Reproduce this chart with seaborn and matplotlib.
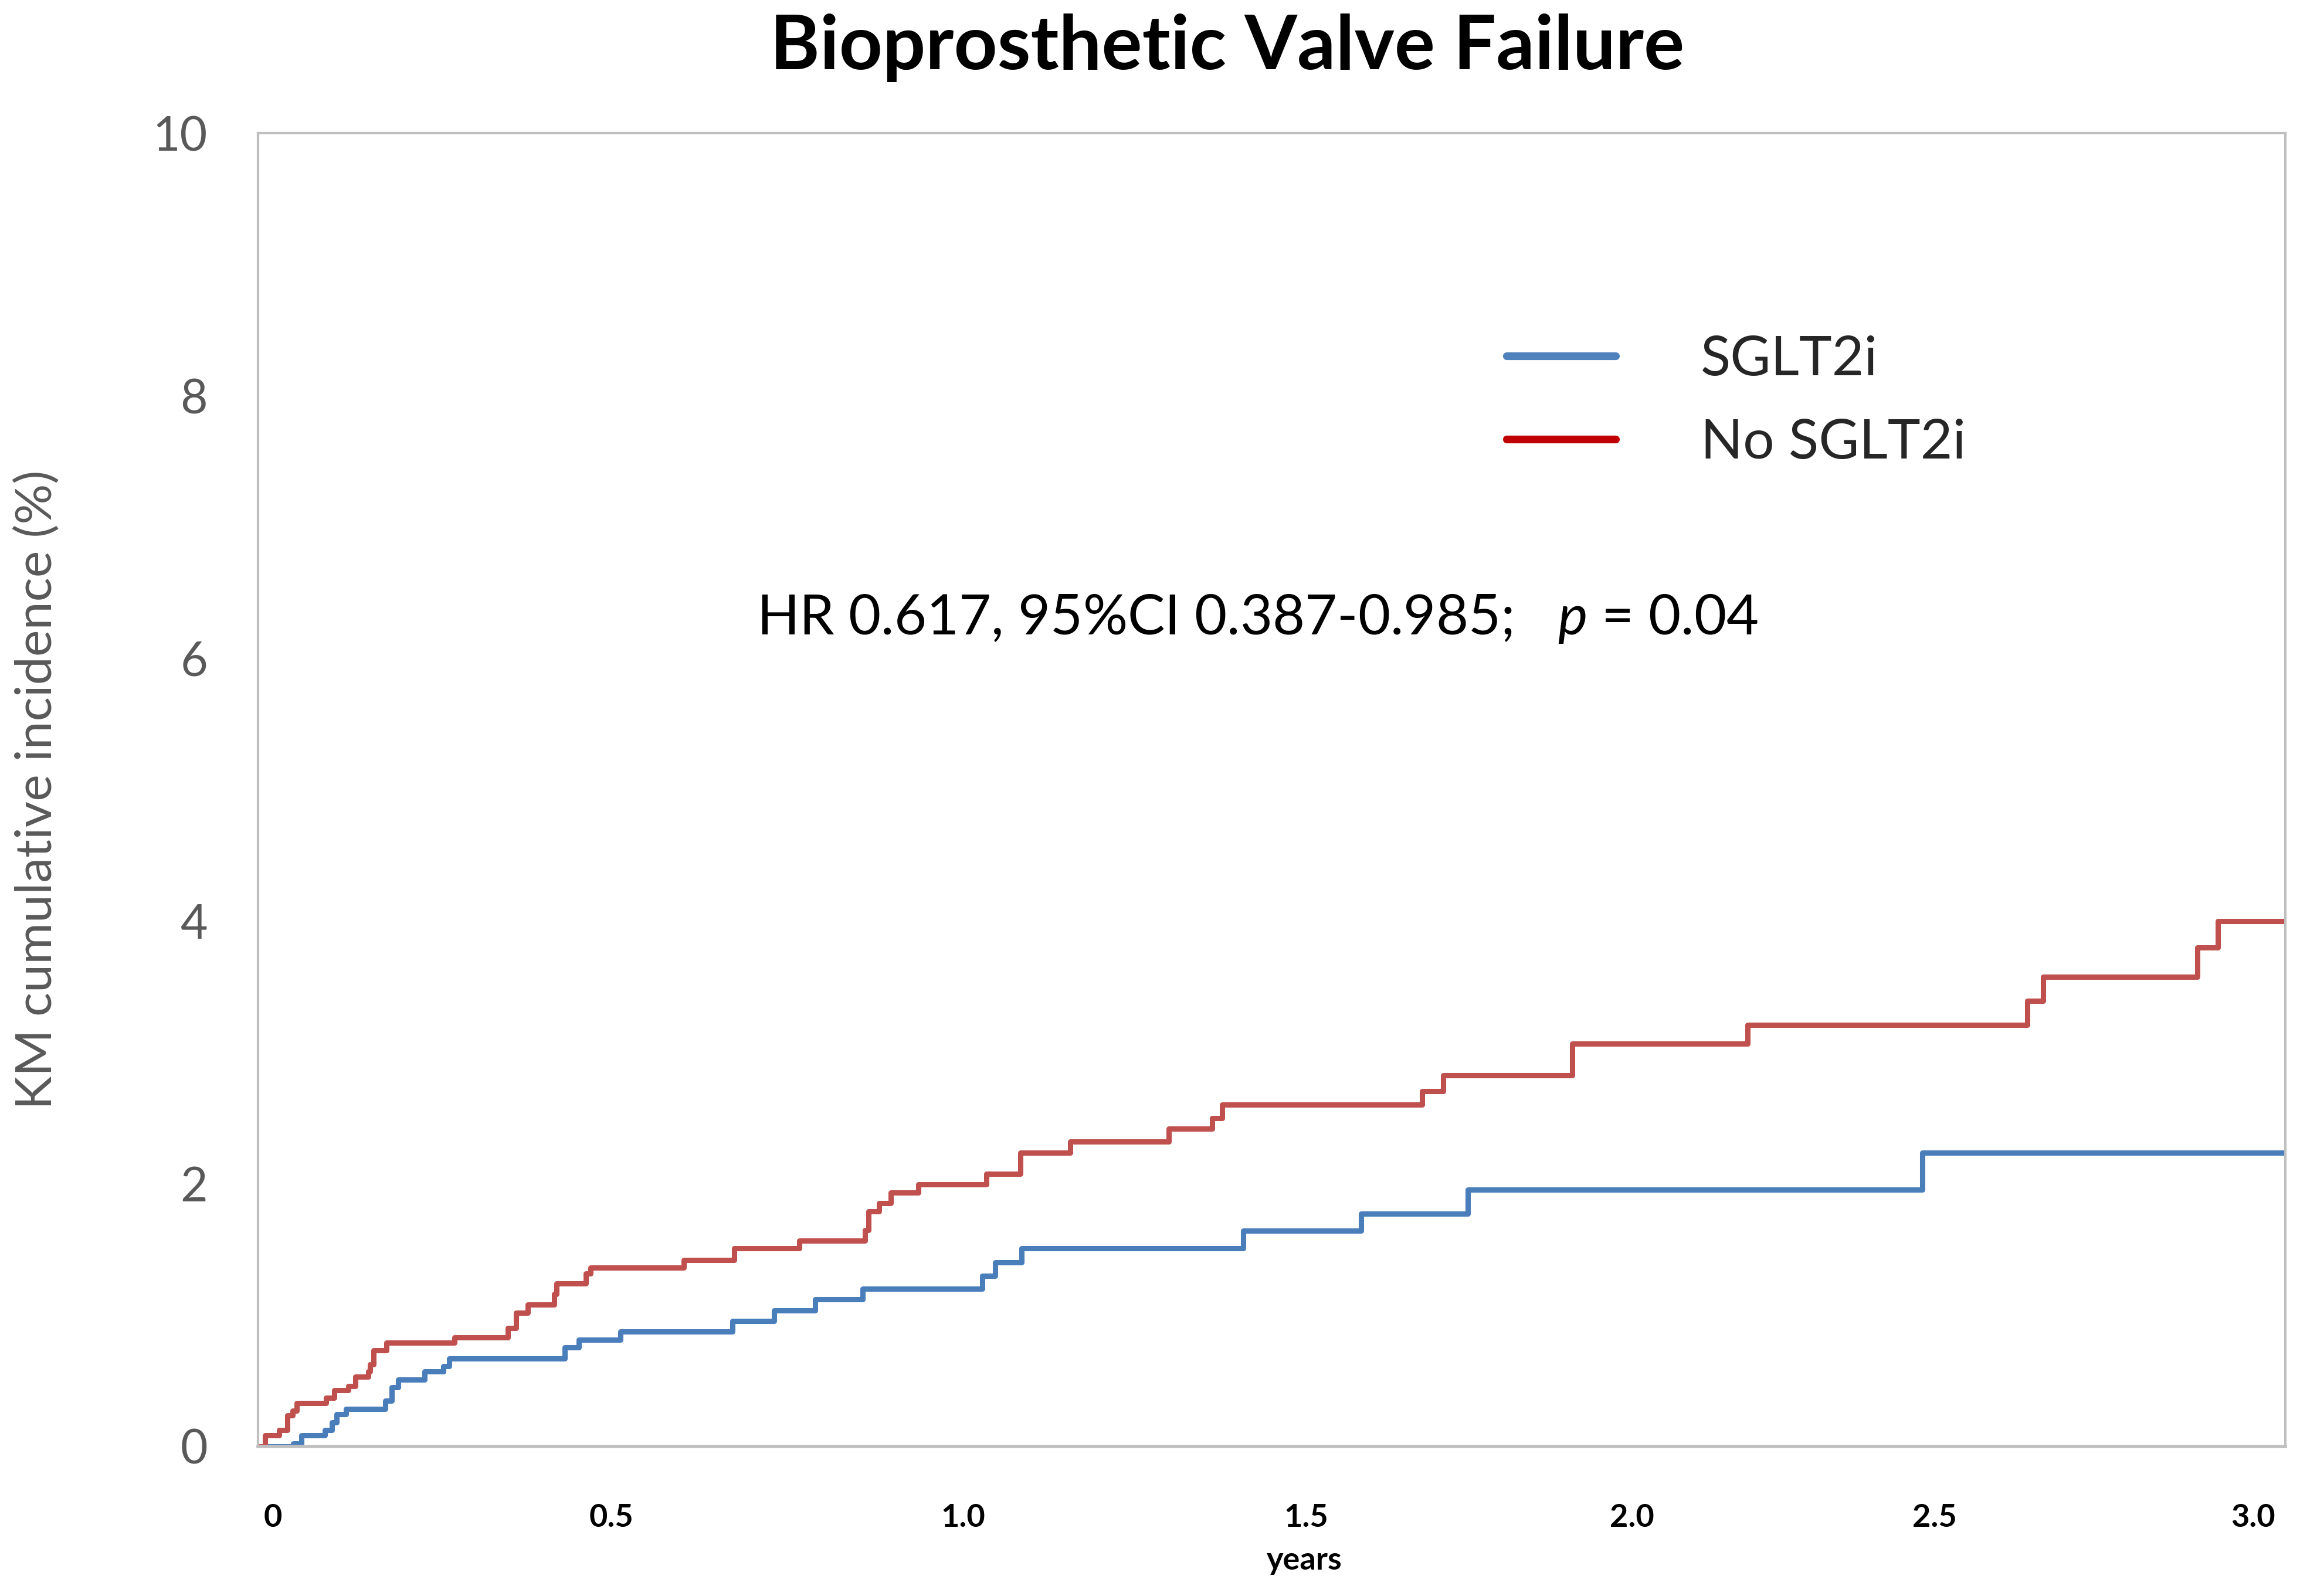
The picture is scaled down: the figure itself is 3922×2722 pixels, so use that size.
import pandas as pd
import numpy as np
import matplotlib.pyplot as plt
import seaborn as sns
from matplotlib.lines import Line2D

# KM step points (years, cumulative incidence %)
sglt2_years = [0, 0.052, 0.064, 0.099, 0.109, 0.116, 0.130, 0.188, 0.198, 0.207,
               0.246, 0.274, 0.283, 0.454, 0.475, 0.536, 0.702, 0.764, 0.824,
               0.895, 1.072, 1.091, 1.130, 1.458, 1.632, 1.790, 2.463, 3.0]
sglt2_incidence = [0, 0.021, 0.083, 0.125, 0.181, 0.246, 0.286, 0.347, 0.449, 0.510,
                   0.569, 0.610, 0.671, 0.754, 0.814, 0.875, 0.954, 1.036, 1.119,
                   1.199, 1.300, 1.402, 1.508, 1.644, 1.770, 1.953, 2.236, 2.236]

no_sglt2_years = [0, 0.010, 0.031, 0.043, 0.051, 0.057, 0.101, 0.113, 0.134, 0.144,
                  0.163, 0.166, 0.171, 0.190, 0.291, 0.370, 0.382, 0.399, 0.438,
                  0.442, 0.485, 0.492, 0.630, 0.705, 0.801, 0.898, 0.903, 0.919,
                  0.936, 0.977, 1.078, 1.128, 1.202, 1.348, 1.412, 1.427, 1.723,
                  1.754, 1.945, 2.204, 2.618, 2.642, 2.870, 2.900, 3.0]
no_sglt2_incidence = [0, 0.084, 0.125, 0.236, 0.270, 0.329, 0.370, 0.427, 0.458, 0.529,
                      0.569, 0.625, 0.732, 0.791, 0.832, 0.902, 1.017, 1.078, 1.162,
                      1.239, 1.319, 1.362, 1.421, 1.508, 1.567, 1.647, 1.791, 1.852,
                      1.933, 1.995, 2.074, 2.237, 2.320, 2.420, 2.501, 2.601, 2.705,
                      2.826, 3.069, 3.209, 3.392, 3.575, 3.799, 4.000, 4.000]

groups = ["SGLT2i", "No SGLT2i"]
x_tick_labels = ["0", "0.5", "1.0", "1.5", "2.0", "2.5", "3.0"]
x_tick_pos = [0.022, 0.523, 1.043, 1.551, 2.033, 2.481, 2.952]  # labels sit where the original put them
y_ticks = [0, 2, 4, 6, 8, 10]

df = pd.concat([
    pd.DataFrame({"years": sglt2_years, "incidence": sglt2_incidence, "group": groups[0]}),
    pd.DataFrame({"years": no_sglt2_years, "incidence": no_sglt2_incidence, "group": groups[1]}),
])

sns.set_theme(style="white")
plt.rcParams["font.family"] = ["Lato", "DejaVu Sans"]
plt.rcParams["mathtext.fontset"] = "custom"
plt.rcParams["mathtext.it"] = "Lato:italic"
plt.rcParams["mathtext.rm"] = "Lato"

line_colors = {"SGLT2i": "#4A7EBB", "No SGLT2i": "#C0504D"}
legend_colors = {"SGLT2i": "#4F81BD", "No SGLT2i": "#C00000"}

fig = plt.figure(figsize=(39.22, 27.22), dpi=100)
ax = fig.add_axes([0.1122, 0.0937, 0.8814, 0.8229])

sns.lineplot(data=df, x="years", y="incidence", hue="group", palette=line_colors,
             estimator=None, drawstyle="steps-post", linewidth=6.5, legend=False, ax=ax)

ax.set_xlim(0, 3.0)
ax.set_ylim(0, 10)
ax.set_xticks(x_tick_pos)
ax.set_xticklabels(x_tick_labels, fontsize=39, fontweight="bold", color="black")
ax.set_yticks(y_ticks)
ax.set_yticklabels([str(v) for v in y_ticks], fontsize=58, color="#595959")
ax.tick_params(axis="x", length=0, pad=70)
ax.tick_params(axis="y", length=0, pad=62)

for side in ["left", "right", "top", "bottom"]:
    ax.spines[side].set_color("#BFBFBF")
    ax.spines[side].set_linewidth(3)
ax.spines["bottom"].set_linewidth(4)

ax.set_xlabel("years", fontsize=39, fontweight="bold", color="black")
ax.xaxis.set_label_coords(0.516, -0.087)
ax.xaxis.label.set_va("center")
ax.set_ylabel("KM cumulative incidence (%)", fontsize=62, color="#595959")
ax.yaxis.set_label_coords(-0.109, 0.5)
ax.yaxis.label.set_va("center")

fig.text(0.5336, 0.970, "Bioprosthetic Valve Failure", fontsize=93, fontweight="bold",
         ha="center", va="center", color="black")

ax.text(0.246, 0.630, r"HR 0.617, 95%CI 0.387-0.985;   $\it{p}$ = 0.04", transform=ax.transAxes,
        fontsize=68.5, ha="left", va="center", color="black")

handles = [Line2D([0], [0], color=legend_colors[g], linewidth=9.5) for g in groups]
ax.legend(handles, groups, loc="upper left", bbox_to_anchor=(0.616, 0.846), frameon=False,
          fontsize=68, handlelength=1.96, handletextpad=1.54, labelspacing=0.61,
          borderpad=0, borderaxespad=0)

plt.savefig("out.png", dpi=100)
